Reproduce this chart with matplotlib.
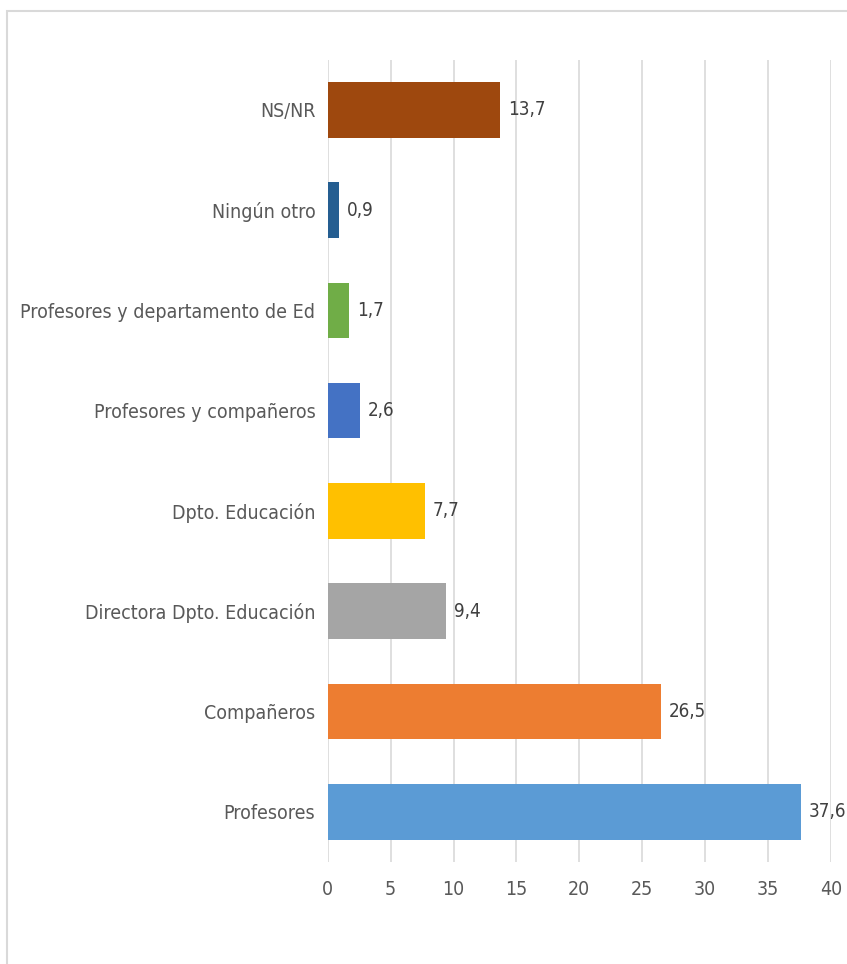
import matplotlib.pyplot as plt
from matplotlib.patches import Rectangle

categories = ["Profesores", "Compañeros", "Directora Dpto. Educación", "Dpto. Educación",
              "Profesores y compañeros", "Profesores y departamento de Ed",
              "Ningún otro", "NS/NR"]
values = [37.6, 26.5, 9.4, 7.7, 2.6, 1.7, 0.9, 13.7]
labels = ["37,6", "26,5", "9,4", "7,7", "2,6", "1,7", "0,9", "13,7"]
colors = ["#5B9BD5", "#ED7D31", "#A5A5A5", "#FFC000", "#4472C4", "#70AD47", "#255E91", "#9E480E"]
xticks = [0, 5, 10, 15, 20, 25, 30, 35, 40]

plt.rcParams['font.family'] = ['DejaVu Sans']
plt.rcParams['font.stretch'] = 'condensed'
txt = "#595959"

fig = plt.figure(figsize=(8.47, 9.64), dpi=100)
ax = fig.add_axes([0.387, 0.106, 0.594, 0.832])

y = range(len(categories))
ax.barh(y, values, height=0.555, color=colors, zorder=3)
for yi, v, lab in zip(y, values, labels):
    ax.text(v + 0.6, yi, lab, va="center", ha="left", fontsize=13.5,
            color="#404040", stretch="condensed")

ax.set_xlim(0, 40)
ax.set_ylim(-0.5, 7.5)
ax.set_xticks(xticks)
ax.set_yticks(list(y))
ax.set_yticklabels(categories)
ax.tick_params(axis="both", length=0, labelsize=14, labelcolor=txt)
ax.tick_params(axis="x", pad=13)
ax.tick_params(axis="y", pad=9)
ax.grid(axis="x", color="#D9D9D9", linewidth=1.2, zorder=0)
for s in ax.spines.values():
    s.set_visible(False)

fig.patches.append(Rectangle((7 / 847, -0.05), 1.1, 1 - 11 / 964 + 0.05,
                             transform=fig.transFigure, fill=False,
                             edgecolor="#D9D9D9", linewidth=1.5))

fig.savefig("out.png", dpi=100)
